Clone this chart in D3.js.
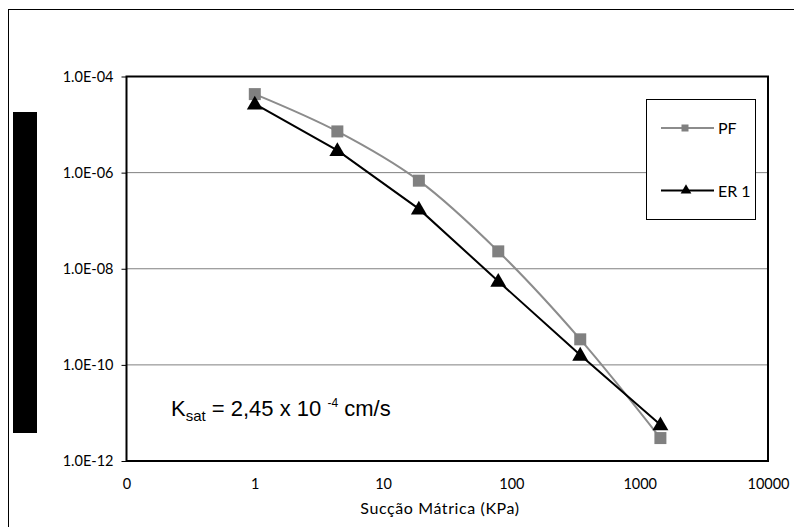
<!DOCTYPE html>
<html><head><meta charset="utf-8">
<script src="https://cdn.jsdelivr.net/npm/d3@7"></script>
<style>body{margin:0;background:#fff}svg{display:block}</style>
</head><body>
<script>
const suction = [1, 4.4, 19, 79, 344, 1450];
const pfValues = [4.3e-5, 7.2e-6, 6.8e-7, 2.3e-8, 3.4e-10, 3.0e-12];
const er1Values = [2.7e-5, 2.9e-6, 1.76e-7, 5.5e-9, 1.6e-10, 5.7e-12];
const xTicks = [0.1, 1, 10, 100, 1000, 10000];
const xTickLabels = ["0", "1", "10", "100", "1000", "10000"];
const yTicks = [1e-4, 1e-6, 1e-8, 1e-10, 1e-12];
const yTickLabels = ["1.0E-04", "1.0E-06", "1.0E-08", "1.0E-10", "1.0E-12"];
const seriesNames = ["PF", "ER 1"];

const W = 794, H = 527;
const svg = d3.select("body").append("svg").attr("width", W).attr("height", H);
const L = 126.5, R = 768, T = 76.5, B = 461;
const x = d3.scaleLog().domain([0.1, 10000]).range([L, R]);
const y = d3.scaleLog().domain([1e-12, 1e-4]).range([B, T]);
const font = "'Century Gothic', Lato, 'DejaVu Sans', sans-serif";

// outer border
svg.append("rect").attr("x", 8.5).attr("y", 9.5).attr("width", 800).attr("height", 540)
  .attr("fill", "none").attr("stroke", "#000").attr("stroke-width", 1);

// redacted y title bar
svg.append("rect").attr("x", 13).attr("y", 112).attr("width", 24).attr("height", 321).attr("fill", "#000");

// gridlines
svg.append("g").selectAll("line").data(yTicks.slice(1, 4)).join("line")
  .attr("x1", L).attr("x2", R).attr("y1", d => y(d)).attr("y2", d => y(d))
  .attr("stroke", "#808080").attr("stroke-width", 1);

// y axis
const yAxis = d3.axisLeft(y).tickValues(yTicks).tickFormat((d, i) => yTickLabels[i]).tickSize(5).tickPadding(8);
const gy = svg.append("g").attr("transform", `translate(${L},0)`).call(yAxis);
gy.select(".domain").remove();
gy.selectAll("text").attr("font-family", font).attr("font-size", 14.5).attr("fill", "#000");
gy.selectAll("line").attr("stroke", "#000");

// x axis
const xAxis = d3.axisBottom(x).tickValues(xTicks).tickFormat((d, i) => xTickLabels[i]).tickSize(0).tickPadding(18);
const gx = svg.append("g").attr("transform", `translate(0,${B})`).call(xAxis);
gx.select(".domain").remove();
gx.selectAll("text").attr("font-family", font).attr("font-size", 14.5).attr("fill", "#000");

// plot frame
svg.append("rect").attr("x", L).attr("y", T).attr("width", R - L).attr("height", B - T)
  .attr("fill", "none").attr("stroke", "#000").attr("stroke-width", 2);

// lines
const pfData = suction.map((s, i) => [s, pfValues[i]]);
const erData = suction.map((s, i) => [s, er1Values[i]]);
const lineSmooth = d3.line().x(d => x(d[0])).y(d => y(d[1])).curve(d3.curveCatmullRom.alpha(0.5));
const lineStraight = d3.line().x(d => x(d[0])).y(d => y(d[1]));
svg.append("path").attr("d", lineSmooth(pfData)).attr("fill", "none").attr("stroke", "#8c8c8c").attr("stroke-width", 2);
svg.append("path").attr("d", lineStraight(erData)).attr("fill", "none").attr("stroke", "#000").attr("stroke-width", 2);

const sq = 12;
svg.append("g").selectAll("rect").data(pfData).join("rect")
  .attr("x", d => x(d[0]) - sq / 2).attr("y", d => y(d[1]) - sq / 2)
  .attr("width", sq).attr("height", sq).attr("fill", "#808080");
const tri = d3.symbol().type(d3.symbolTriangle).size(110);
svg.append("g").selectAll("path").data(erData).join("path")
  .attr("d", tri).attr("transform", d => `translate(${x(d[0])},${y(d[1]) + 1})`).attr("fill", "#000");

// legend
const lg = svg.append("g");
lg.append("rect").attr("x", 646.5).attr("y", 99.5).attr("width", 109).attr("height", 120)
  .attr("fill", "#fff").attr("stroke", "#000").attr("stroke-width", 1);
const legY = [128, 190.5];
const legColor = ["#8c8c8c", "#000"];
legY.forEach((ly, i) => {
  lg.append("line").attr("x1", 661).attr("x2", 714).attr("y1", ly).attr("y2", ly)
    .attr("stroke", legColor[i]).attr("stroke-width", 2);
  if (i === 0) lg.append("rect").attr("x", 685 - 3.5).attr("y", ly - 3.5).attr("width", 7).attr("height", 7).attr("fill", "#808080");
  else lg.append("path").attr("d", d3.symbol().type(d3.symbolTriangle).size(50)).attr("transform", `translate(686,${ly})`).attr("fill", "#000");
  lg.append("text").attr("x", 718).attr("y", ly + 6).attr("font-family", font).attr("font-size", 16).text(seriesNames[i]);
});

// Ksat annotation
const kt = svg.append("text").attr("x", 171).attr("y", 416).attr("font-family", "'Liberation Sans', Arial, sans-serif").attr("font-size", 22).attr("fill", "#000");
kt.append("tspan").text("K");
kt.append("tspan").attr("font-size", 15).attr("dy", 5).text("sat");
kt.append("tspan").attr("dy", -5).text(" = 2,45 x 10 ");
kt.append("tspan").attr("font-size", 12).attr("dy", -9).text("-4");
kt.append("tspan").attr("dy", 9).text(" cm/s");

// x title
svg.append("text").attr("x", 440).attr("y", 514).attr("text-anchor", "middle")
  .attr("font-family", font).attr("font-size", 16).attr("letter-spacing", 0.6).text("Sucção Mátrica (KPa)");
</script>
</body></html>
